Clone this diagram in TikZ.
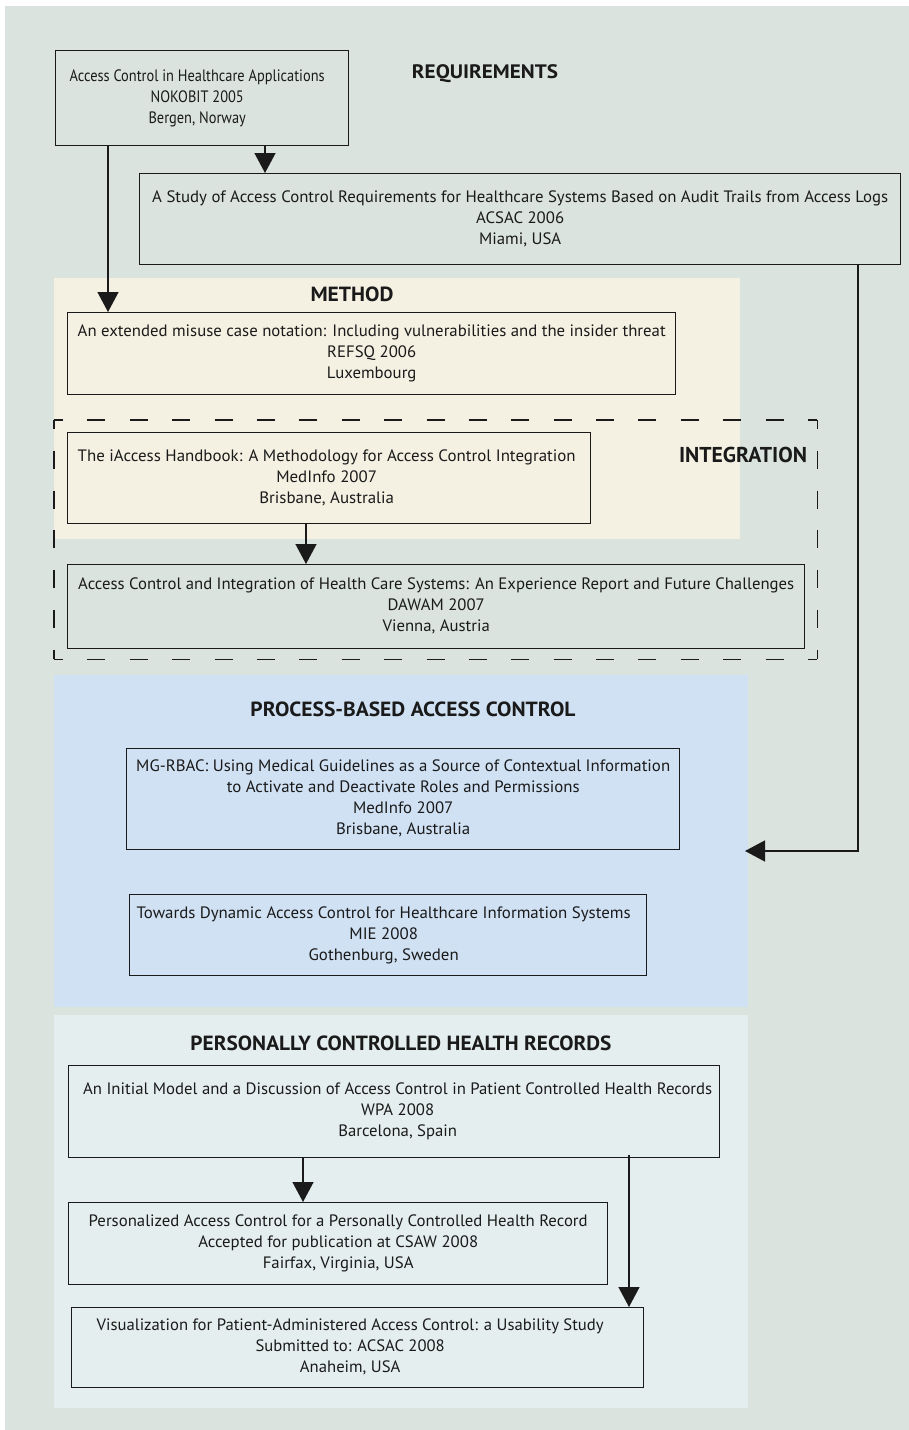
\documentclass[tikz,border=0pt]{standalone}
\usepackage{fontspec}
\setmainfont{PT Sans}
\usepackage{graphicx}
\usetikzlibrary{arrows.meta}

\definecolor{panelbg}{HTML}{DAE3DE}
\definecolor{methodbg}{HTML}{F4F1E2}
\definecolor{processbg}{HTML}{D0E1F4}
\definecolor{recordbg}{HTML}{E5EEEE}
\definecolor{ink}{HTML}{1A1A1A}

% Publication text: the first line is stretched/condensed to a given width,
% the remaining lines get the same horizontal factor.
\newlength\pubfirstw
\newcommand\pubtext[3]{%
  \settowidth\pubfirstw{#2}%
  \pgfmathsetmacro\pubscale{#1/\pubfirstw}%
  \scalebox{\pubscale}[1]{\begin{tabular}{@{}c@{}}#2\\#3\end{tabular}}%
}
\newcommand\headtext[2]{\resizebox{#1pt}{\height}{#2}}

\tikzset{
  pubbox/.style={draw=ink, line width=1.4pt, inner sep=0pt, anchor=north west,
    text=ink, font=\fontsize{16.5}{21}\selectfont},
  heading/.style={inner sep=0pt, text=ink, font=\fontsize{20.5}{24}\selectfont\bfseries},
  arr/.style={draw=ink, line width=1.4pt, -{Triangle[width=21pt,length=20pt]}},
  zone/.style={draw=none, inner sep=0pt, anchor=north west},
  dashside/.style={draw=ink, line width=1.4pt, line cap=square, dash phase=9pt},
}

\begin{document}
\begin{tikzpicture}[x=1pt,y=-1pt]
\useasboundingbox (0,0) rectangle (909,1430);
\fill[white] (0,0) rectangle (909,1430);

% background panel and thematic zones
\fill[panelbg] (5,6) rectangle (910,1431);
\node[zone, fill=methodbg, minimum width=686pt, minimum height=261pt] (method) at (54,278) {};
\node[zone, fill=processbg, minimum width=694pt, minimum height=332pt] (process) at (54,675) {};
\node[zone, fill=recordbg, minimum width=694pt, minimum height=393pt] (records) at (54,1015) {};

% dashed frame of the integration group, one side at a time so the corners get whole dashes
\node[zone, minimum width=763pt, minimum height=239pt] (integration) at (54,420) {};
\draw[dashside, dash pattern=on 18pt off 24.39pt] (integration.north west) -- (integration.north east);
\draw[dashside, dash pattern=on 18pt off 24.39pt] (integration.south west) -- (integration.south east);
\draw[dashside, dash pattern=on 18pt off 21.83pt] (integration.north west) -- (integration.south west);
\draw[dashside, dash pattern=on 18pt off 21.83pt] (integration.north east) -- (integration.south east);

% section headings
\node[heading, font=\fontsize{19.5}{24}\selectfont\bfseries] (hreq) at (485,74) {\headtext{146}{REQUIREMENTS}};
\node[heading] (hmeth) at (352,294) {\headtext{83}{METHOD}};
\node[heading, font=\fontsize{21.5}{24}\selectfont\bfseries] (hint) at (743,455) {\headtext{128}{INTEGRATION}};
\node[heading] (hproc) at (413,709) {\headtext{325}{PROCESS-BASED ACCESS CONTROL}};
\node[heading] (hrec) at (401,1043) {\headtext{421}{PERSONALLY CONTROLLED HEALTH RECORDS}};

% publications
\node[pubbox, minimum width=293pt, minimum height=95pt] (nokobit) at (55,50)
  {\pubtext{255}{Access Control in Healthcare Applications}{NOKOBIT 2005\\Bergen, Norway}\kern10pt};
\node[pubbox, minimum width=761pt, minimum height=91pt] (acsac06) at (139,173)
  {\pubtext{736}{A Study of Access Control Requirements for Healthcare Systems Based on Audit Trails from Access Logs}{ACSAC 2006\\Miami, USA}};
\node[pubbox, minimum width=608pt, minimum height=82pt] (refsq) at (67,312)
  {\pubtext{588}{An extended misuse case notation: Including vulnerabilities and the insider threat}{REFSQ 2006\\Luxembourg}};
\node[pubbox, minimum width=523pt, minimum height=91pt] (iaccess) at (67,432)
  {\pubtext{498}{The iAccess Handbook: A Methodology for Access Control Integration}{MedInfo 2007\\Brisbane, Australia}\kern5pt};
\node[pubbox, minimum width=737pt, minimum height=84pt] (dawam) at (67,564)
  {\pubtext{716}{Access Control and Integration of Health Care Systems: An Experience Report and Future Challenges}{DAWAM 2007\\Vienna, Austria}};
\node[pubbox, minimum width=553pt, minimum height=101pt] (mgrbac) at (126,748)
  {\pubtext{534}{MG-RBAC: Using Medical Guidelines as a Source of Contextual Information}{to Activate and Deactivate Roles and Permissions\\MedInfo 2007\\Brisbane, Australia}};
\node[pubbox, minimum width=517pt, minimum height=81pt] (mie) at (129,894)
  {\pubtext{494}{Towards Dynamic Access Control for Healthcare Information Systems}{MIE 2008\\Gothenburg, Sweden}\kern9pt};
\node[pubbox, minimum width=651pt, minimum height=92pt] (wpa) at (68,1065)
  {\kern7pt\pubtext{629}{An Initial Model and a Discussion of Access Control in Patient Controlled Health Records}{WPA 2008\\Barcelona, Spain}};
\node[pubbox, minimum width=539pt, minimum height=82pt] (csaw) at (68,1202)
  {\pubtext{499}{Personalized Access Control for a Personally Controlled Health Record}{Accepted for publication at CSAW 2008\\Fairfax, Virginia, USA}};
\node[pubbox, minimum width=572pt, minimum height=80pt] (acsac08) at (71,1307)
  {\pubtext{507}{Visualization for Patient-Administered Access Control: a Usability Study}{Submitted to: ACSAC 2008\\Anaheim, USA}\kern15pt};

% connector columns
\coordinate (xa) at (265,0);
\coordinate (xb) at (108,0);
\coordinate (xc) at (858,0);
\coordinate (xd) at (306,0);
\coordinate (xe) at (303,0);
\coordinate (xf) at (629,0);
\coordinate (pin) at (745,851);

% connectors
\draw[arr] (xa |- nokobit.south) -- (xa |- acsac06.north);
\draw[arr] (xb |- nokobit.south) -- (xb |- refsq.north);
\draw[arr] (xc |- acsac06.south) |- (pin);
\draw[arr] (xd |- iaccess.south) -- (xd |- dawam.north);
\draw[arr] (xe |- wpa.south) -- (xe |- csaw.north);
\draw[arr] ([yshift=3pt]xf |- wpa.south) -- (xf |- acsac08.north);
\end{tikzpicture}
\end{document}
